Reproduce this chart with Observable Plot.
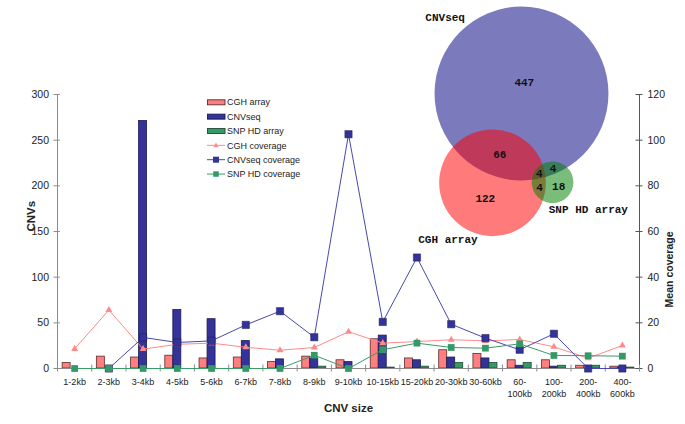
<!DOCTYPE html>
<html><head><meta charset="utf-8">
<script src="https://cdn.jsdelivr.net/npm/d3@7"></script>
<script src="https://cdn.jsdelivr.net/npm/@observablehq/plot@0.6"></script>
<style>
body{margin:0;background:#fff;}
#wrap{position:relative;width:685px;height:424px;overflow:hidden;font-family:"Liberation Sans",Arial,sans-serif;background:#fff;}
#wrap > *{position:absolute;}
</style></head><body><div id="wrap"></div>
<script>
// ---------- data ----------
const categories = ["1-2kb","2-3kb","3-4kb","4-5kb","5-6kb","6-7kb","7-8kb","8-9kb","9-10kb","10-15kb","15-20kb","20-30kb","30-60kb","60-100kb","100-200kb","200-400kb","400-600kb"];
const xTickLabels = ["1-2kb","2-3kb","3-4kb","4-5kb","5-6kb","6-7kb","7-8kb","8-9kb","9-10kb","10-15kb","15-20kb","20-30kb","30-60kb","60-\n100kb","100-\n200kb","200-\n400kb","400-\n600kb"];
const cghArray   = [6,13,12,14,11,12,7,13,9,32,11,20,16,9,9,3,2];
const cnvSeq     = [0,0,271,64,54,30,10,11,7,36,9,12,11,3,2,0,1];
const snpHdArray = [0,0,0,0,0,0,0,2,0,1,2,6,6,6,3,3,1];
const cghCoverage    = [8.6,25.6,8.5,10.6,11.1,9.3,8.0,9.2,16.1,11.1,11.8,12.6,12.1,12.7,9.5,4.5,10.1];
const cnvSeqCoverage = [null,0,13.6,11.4,12.1,19.1,25.1,13.7,102.6,20.4,48.6,19.4,13.3,8.2,15.2,0,0];
const snpHdCoverage  = [0,0,0,0,0,0,0,5.8,0,8.2,11.1,9.2,8.9,10.8,5.7,5.6,5.4];
const cnvTicks = [0,50,100,150,200,250,300];
const coverageTicks = [0,20,40,60,80,100,120];

// Venn: region membership (CNVseq, CGH array, SNP HD array) and counts
const vennSets = ["CNVseq","CGH array","SNP HD array"];
const vennRegions = ["100","010","001","110","101","011","111"];
const vennCounts = [447,122,18,66,4,4,4];

// ---------- styles ----------
const C = {cgh:"#ff7f7f", cnv:"#333399", snp:"#339966",
           cghLine:"#ff8a8a", cnvLine:"#4848ad", snpLine:"#3a9a6a",
           cghStroke:"#5a2d2d", cnvStroke:"#1c1c55", snpStroke:"#1d4b35",
           axis:"#8c8c8c", axisR:"#555"};
const vennFill = ["#000080","#ff0000","#008000"];
const W=685, H=424, mL=57, mR=46, mT=94, mB=56;
const n = categories.length;
const pxBand = (W-mL-mR)/n;
const pxY = (H-mT-mB)/300;
const covK = 300/120;
const hb = 4/pxBand;               // half bar width in x units
const tX = 3.5/pxBand, tY = 3.5/pxY;

const rows = categories.map((c,i)=>({i, c, cgh:cghArray[i], cnv:cnvSeq[i], snp:snpHdArray[i],
  cghCov:cghCoverage[i], cnvCov:cnvSeqCoverage[i], snpCov:snpHdCoverage[i]}));

const font = "'Liberation Sans', Arial, sans-serif";
const chart = Plot.plot({
  width:W, height:H, marginLeft:mL, marginRight:mR, marginTop:mT, marginBottom:mB,
  style:{fontFamily:font, background:"transparent", color:"#222"},
  x:{type:"linear", domain:[-0.5, n-0.5]},
  y:{type:"linear", domain:[0,300]},
  marks:[
    Plot.rect(rows,{filter:d=>d.cgh>0, x1:d=>d.i-3*hb, x2:d=>d.i-hb, y1:0, y2:"cgh", fill:C.cgh, stroke:C.cghStroke, strokeWidth:0.8}),
    Plot.rect(rows,{filter:d=>d.cnv>0, x1:d=>d.i-hb, x2:d=>d.i+hb, y1:0, y2:"cnv", fill:C.cnv, stroke:C.cnvStroke, strokeWidth:0.8}),
    Plot.rect(rows,{filter:d=>d.snp>0, x1:d=>d.i+hb, x2:d=>d.i+3*hb, y1:0, y2:"snp", fill:C.snp, stroke:C.snpStroke, strokeWidth:0.8}),
    Plot.ruleY([0],{stroke:C.axis}),
    Plot.ruleX([-0.5],{y1:0,y2:300,stroke:C.axis}),
    Plot.ruleX([n-0.5],{y1:0,y2:300,stroke:C.axisR}),
    Plot.ruleY(cnvTicks,{x1:-0.5-tX, x2:-0.5+tX*0.8, stroke:C.axis}),
    Plot.ruleY(coverageTicks.map(v=>v*covK),{x1:n-0.5-tX, x2:n-0.5+tX, stroke:C.axisR}),
    Plot.ruleX(d3.range(n+1).map(i=>i-0.5),{y1:-tY, y2:tY, stroke:C.axis}),
    Plot.line(rows,{x:"i", y:d=>d.cghCov*covK, stroke:C.cghLine, strokeWidth:1}),
    Plot.dot(rows,{x:"i", y:d=>d.cghCov*covK, symbol:"triangle", r:2.6, fill:C.cghLine, stroke:"none"}),
    Plot.line(rows,{x:"i", y:d=>d.cnvCov==null?NaN:d.cnvCov*covK, stroke:C.cnvLine, strokeWidth:1}),
    Plot.dot(rows,{filter:d=>d.cnvCov!=null, x:"i", y:d=>d.cnvCov*covK, symbol:"square", r:4.1, fill:C.cnv, stroke:C.cnvStroke, strokeWidth:0.5}),
    Plot.line(rows,{x:"i", y:d=>d.snpCov*covK, stroke:C.snpLine, strokeWidth:1}),
    Plot.dot(rows,{x:"i", y:d=>d.snpCov*covK, symbol:"square", r:3.8, fill:C.snp, stroke:"none"}),
    Plot.axisX({ticks:d3.range(n), tickFormat:i=>xTickLabels[i], tickSize:0, tickPadding:8, fontSize:9, lineHeight:1.3, label:null}),
    Plot.axisY({anchor:"left", ticks:cnvTicks, tickSize:0, tickPadding:8.5, fontSize:10.5, label:null}),
    Plot.axisY({anchor:"right", ticks:coverageTicks.map(v=>v*covK), tickFormat:v=>v/covK, tickSize:0, tickPadding:8, fontSize:10.5, label:null}),
    Plot.text(["CNVs"],{text:d=>d, frameAnchor:"left", dx:-26, rotate:-90, fontWeight:"bold", fontSize:11.5}),
    Plot.text(["Mean coverage"],{text:d=>d, frameAnchor:"right", dx:30, rotate:-90, fontWeight:"bold", fontSize:10.5}),
    Plot.text(["CNV size"],{text:d=>d, frameAnchor:"bottom", dy:43, fontWeight:"bold", fontSize:11.5})
  ]
});
const wrap = document.getElementById("wrap");
chart.style.left="0px"; chart.style.top="0px";
wrap.appendChild(chart);

// ---------- legend ----------
const legendItems = [
  {label:"CGH array", kind:"bar", fill:C.cgh, stroke:C.cghStroke},
  {label:"CNVseq", kind:"bar", fill:C.cnv, stroke:C.cnvStroke},
  {label:"SNP HD array", kind:"bar", fill:C.snp, stroke:C.snpStroke},
  {label:"CGH coverage", kind:"tri", line:C.cghLine, fill:C.cghLine},
  {label:"CNVseq coverage", kind:"sq", line:C.cnvLine, fill:C.cnv, s:6},
  {label:"SNP HD coverage", kind:"sq", line:C.snpLine, fill:C.snp, s:5.5}
];
const lg = d3.create("svg").attr("width",160).attr("height",90)
  .style("left","204px").style("top","95px").style("font-family",font);
legendItems.forEach((it,k)=>{
  const y = 7.3 + k*14.35;
  const g = lg.append("g").attr("transform",`translate(0,${y})`);
  if(it.kind==="bar"){
    g.append("rect").attr("x",3.5).attr("y",-2.5).attr("width",17.5).attr("height",5).attr("fill",it.fill).attr("stroke",it.stroke).attr("stroke-width",0.9);
  } else {
    g.append("line").attr("x1",3).attr("x2",21).attr("stroke",it.line).attr("stroke-width",1);
    if(it.kind==="tri") g.append("path").attr("d","M12,-2.8L14.6,1.8L9.4,1.8Z").attr("fill",it.fill);
    else g.append("rect").attr("x",12-it.s/2).attr("y",-it.s/2).attr("width",it.s).attr("height",it.s).attr("fill",it.fill);
  }
  g.append("text").attr("x",23).attr("y",0).attr("dy","0.35em").attr("font-size",9).attr("fill","#222").text(it.label);
});
wrap.appendChild(lg.node());

// ---------- Venn (area-proportional layout computed from counts) ----------
const pxPerCount = 45.6;                       // px^2 per CNV
const radius = t => Math.sqrt(t*pxPerCount/Math.PI);
const totals = vennSets.map((s,k)=>d3.sum(vennRegions.map((r,j)=>r[k]==="1"?vennCounts[j]:0)));
const pair = (a,b)=>d3.sum(vennRegions.map((r,j)=>r[a]==="1"&&r[b]==="1"?vennCounts[j]:0));
function lens(r1,r2,d){
  if(d>=r1+r2) return 0;
  if(d<=Math.abs(r1-r2)) return Math.PI*Math.min(r1,r2)**2;
  const a1=Math.acos((d*d+r1*r1-r2*r2)/(2*d*r1)), a2=Math.acos((d*d+r2*r2-r1*r1)/(2*d*r2));
  return r1*r1*a1+r2*r2*a2-0.5*Math.sqrt((-d+r1+r2)*(d+r1-r2)*(d-r1+r2)*(d+r1+r2));
}
function distFor(r1,r2,area){
  let lo=Math.abs(r1-r2), hi=r1+r2;
  for(let k=0;k<80;k++){const m=(lo+hi)/2; if(lens(r1,r2,m)>area) lo=m; else hi=m;}
  return (lo+hi)/2;
}
const R = totals.map(radius);
const dAB = distFor(R[0],R[1],pair(0,1)*pxPerCount);
const dAC = distFor(R[0],R[2],pair(0,2)*pxPerCount);
const dBC = distFor(R[1],R[2],pair(1,2)*pxPerCount);
const rot = -108*Math.PI/180;                 // direction from CNVseq to CGH array
const A=[0,0], B=[dAB*Math.cos(rot), dAB*Math.sin(rot)];
const aa=(dAC*dAC-dBC*dBC+dAB*dAB)/(2*dAB), hh=Math.sqrt(Math.max(0,dAC*dAC-aa*aa));
const ux=(B[0]-A[0])/dAB, uy=(B[1]-A[1])/dAB;
const P=[A[0]+aa*ux, A[1]+aa*uy];
const c1=[P[0]-hh*uy, P[1]+hh*ux], c2=[P[0]+hh*uy, P[1]-hh*ux];
const Cc = c1[0]>c2[0]?c1:c2;
const centers=[A,B,Cc];
const circles = vennSets.map((s,k)=>({set:s, total:totals[k], x:centers[k][0], y:centers[k][1], color:vennFill[k]}));
// region label positions: centroids by sampling
const acc = {};
const x0=d3.min(circles,c=>c.x-radius(c.total)), x1=d3.max(circles,c=>c.x+radius(c.total));
const y0=d3.min(circles,c=>c.y-radius(c.total)), y1=d3.max(circles,c=>c.y+radius(c.total));
for(let x=x0;x<=x1;x+=0.5) for(let y=y0;y<=y1;y+=0.5){
  const key = circles.map((c,k)=>((x-c.x)**2+(y-c.y)**2<=R[k]**2)?"1":"0").join("");
  if(key==="000") continue;
  const o = acc[key]||(acc[key]={sx:0,sy:0,n:0}); o.sx+=x; o.sy+=y; o.n++;
}
const regionLabels = vennRegions.map((r,j)=>({count:vennCounts[j], x:acc[r]?acc[r].sx/acc[r].n:0, y:acc[r]?acc[r].sy/acc[r].n:0}));
const labelAngle=[135,-128,-37], labelGap=[21,19,24];
const setLabels = circles.map((c,k)=>({set:c.set,
  x:c.x+(R[k]+labelGap[k])*Math.cos(labelAngle[k]*Math.PI/180),
  y:c.y+(R[k]+labelGap[k])*Math.sin(labelAngle[k]*Math.PI/180)}));
const VS=320;
const mono="'Liberation Mono','Courier New',monospace";
const venn = Plot.plot({
  width:VS, height:VS, margin:0,
  x:{domain:[-VS/2,VS/2], axis:null}, y:{domain:[-VS/2,VS/2], axis:null},
  r:{type:"sqrt", domain:[0,d3.max(totals)], range:[0,radius(d3.max(totals))]},
  color:{type:"identity"},
  style:{background:"transparent", overflow:"visible"},
  marks:[
    Plot.dot(circles,{x:"x", y:"y", r:"total", fill:"color", fillOpacity:0.52, stroke:"none"}),
    Plot.text(regionLabels,{x:"x", y:"y", text:d=>String(d.count), fontFamily:mono, fontWeight:"bold", fontSize:11, fill:"#111"}),
    Plot.text(setLabels,{x:"x", y:"y", text:"set", fontFamily:mono, fontWeight:"bold", fontSize:11, fill:"#111"})
  ]
});
venn.style.left=(521-VS/2)+"px"; venn.style.top=(93-VS/2)+"px";
wrap.appendChild(venn);
</script></body></html>
